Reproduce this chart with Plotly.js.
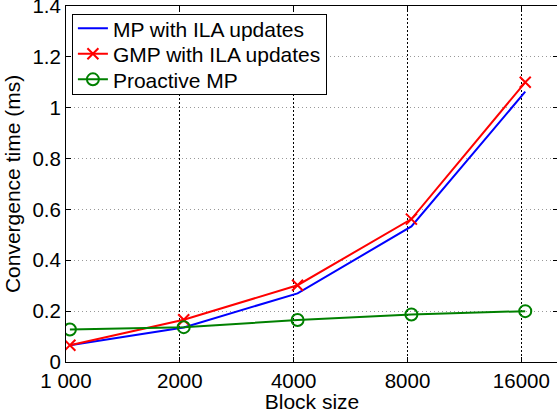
<!DOCTYPE html>
<html>
<head>
<meta charset="utf-8">
<script src="https://cdn.plot.ly/plotly-3.0.1.min.js"></script>
<style>
html,body{margin:0;padding:0;overflow:hidden;background:#fff;}
#chart{width:560px;height:413px;}
</style>
</head>
<body>
<div id="chart"></div>
<script>
const blockSizes = [1024, 2048, 4096, 8192, 16384];
const mpIla = [0.066, 0.136, 0.270, 0.533, 1.063];
const gmpIla = [0.066, 0.166, 0.302, 0.562, 1.100];
const proactiveMp = [0.128, 0.137, 0.165, 0.187, 0.200];
const xTickVals = [1000, 2000, 4000, 8000, 16000];
const xTickText = ["1 000", "2000", "4000", "8000", "16000"];
const yTickVals = [0, 0.2, 0.4, 0.6, 0.8, 1, 1.2, 1.4];
const yTickText = ["0", "0.2", "0.4", "0.6", "0.8", "1", "1.2", "1.4"];

const FONT = "'Liberation Sans', Arial, Helvetica, sans-serif";

const traces = [
  {x: blockSizes, y: mpIla, name: "MP with ILA updates", mode: "lines",
   line: {color: "#0000ff", width: 2}},
  {x: blockSizes, y: gmpIla, name: "GMP with ILA updates", mode: "lines+markers",
   line: {color: "#ff0000", width: 2},
   marker: {symbol: "x-thin-open", size: 11, color: "#ff0000", line: {color: "#ff0000", width: 2}}},
  {x: blockSizes, y: proactiveMp, name: "Proactive MP", mode: "lines+markers",
   line: {color: "#008000", width: 2},
   marker: {symbol: "circle-open", size: 12, color: "#008000", line: {color: "#008000", width: 2}}}
];

const layout = {
  width: 560, height: 413,
  margin: {l: 66, r: 2, t: 6, b: 51},
  paper_bgcolor: "#fff", plot_bgcolor: "#fff",
  font: {family: FONT, size: 20.5, color: "#000"},
  showlegend: true,
  legend: {x: 0.012, y: 0.978, xanchor: "left", yanchor: "top",
           bgcolor: "#fff", bordercolor: "#000", borderwidth: 1,
           font: {family: FONT, size: 21, color: "#000"}, tracegroupgap: 0},
  xaxis: {
    type: "log", range: [Math.log10(1000), Math.log10(20000)],
    tickmode: "array", tickvals: xTickVals, ticktext: xTickText,
    ticks: "inside", ticklen: 5, tickcolor: "#000", tickwidth: 1,
    showline: true, linecolor: "#000", linewidth: 1, mirror: "ticks",
    showgrid: true, gridcolor: "#000", griddash: "2px,2px", gridwidth: 1,
    zeroline: false, ticklabeloverflow: "allow",
    tickfont: {family: FONT, size: 20.5, color: "#000"},
    title: {text: "Block size", font: {family: FONT, size: 21, color: "#000"}, standoff: 0}
  },
  yaxis: {
    range: [0, 1.4],
    tickmode: "array", tickvals: yTickVals, ticktext: yTickText,
    ticks: "inside", ticklen: 5, tickcolor: "#000", tickwidth: 1,
    showline: true, linecolor: "#000", linewidth: 1, mirror: "ticks",
    showgrid: true, gridcolor: "#999", griddash: "1px,3px", gridwidth: 1,
    zeroline: false, ticklabeloverflow: "allow",
    tickfont: {family: FONT, size: 20.5, color: "#000"},
    title: {text: "Convergence time (ms)", font: {family: FONT, size: 21, color: "#000"}, standoff: 6}
  }
};

Plotly.newPlot("chart", traces, layout, {staticPlot: true, displayModeBar: false}).then(function () {
  // tighten legend row spacing to match the reference
  const leg = document.querySelector("#chart .legend");
  if (!leg) return;
  const items = leg.querySelectorAll(".traces");
  const rowGap = 25.5, firstY = 14.5;
  items.forEach(function (it, i) {
    const tr = it.getAttribute("transform") || "";
    const m = tr.match(/translate\(\s*([-\d.]+)[ ,]+([-\d.]+)\s*\)/);
    const x = m ? parseFloat(m[1]) : 0;
    it.setAttribute("transform", "translate(" + x + "," + (firstY + i * rowGap) + ")");
  });
  const bg = leg.querySelector("rect.bg");
  if (bg) bg.setAttribute("height", 2 * firstY + (items.length - 1) * rowGap);
});
</script>
</body>
</html>
